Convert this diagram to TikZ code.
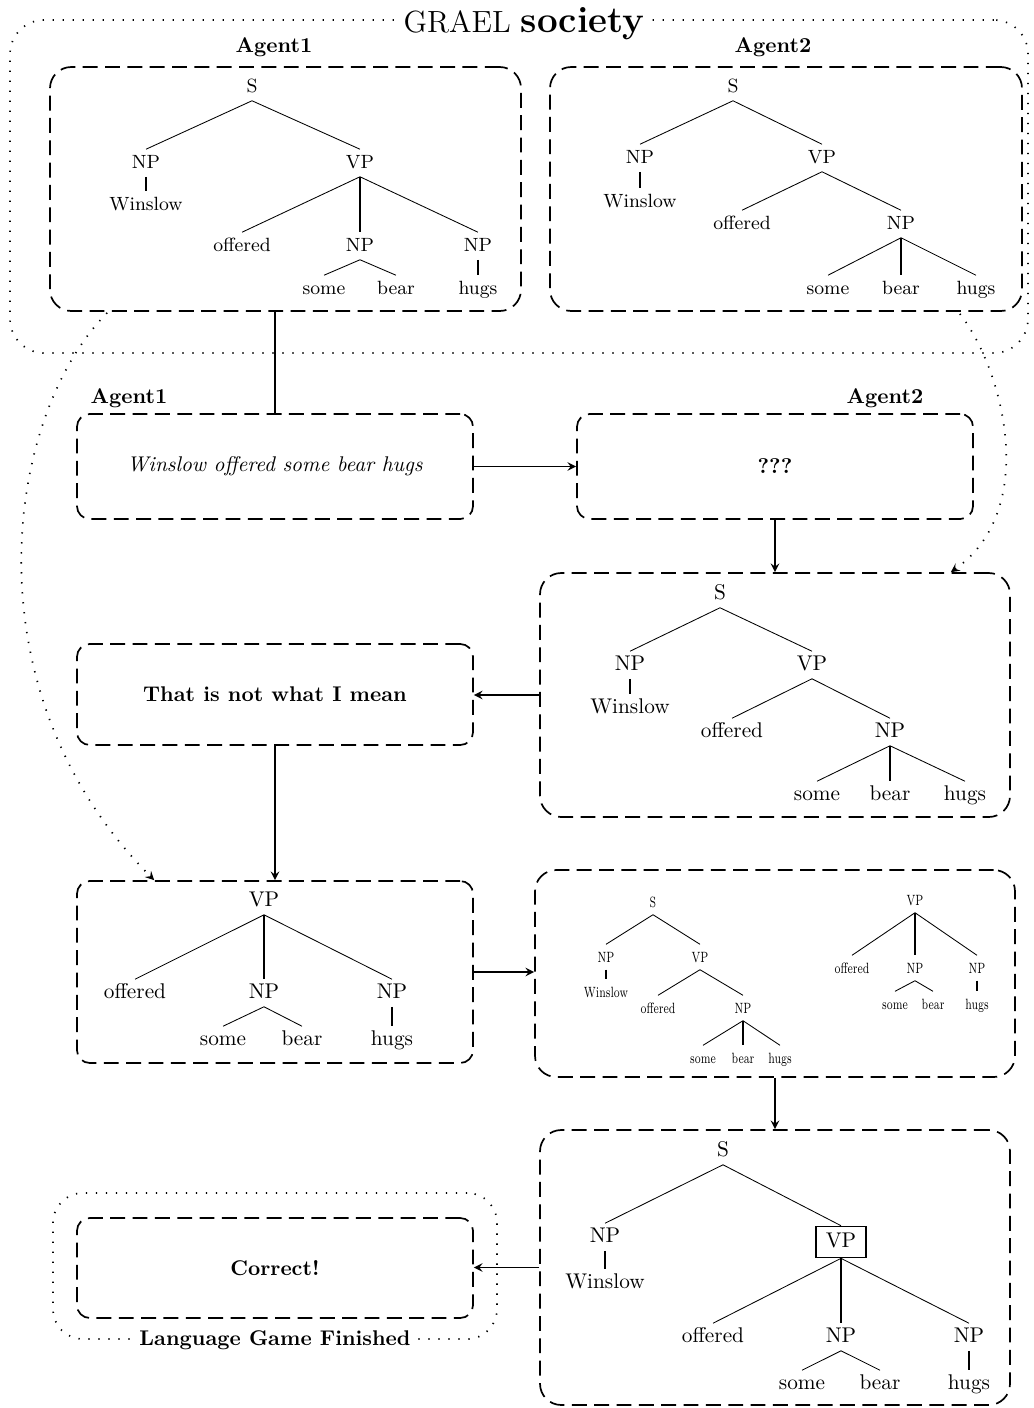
\documentclass[tikz,border=0pt]{standalone}
\usetikzlibrary{fit,calc}

\tikzset{
  treebox/.style={draw, thick, dash pattern=on 7pt off 3.5pt, rounded corners=10pt, inner sep=0pt},
  textbox/.style={treebox, rounded corners=6pt},
  grp/.style={draw, dash pattern=on 0.6pt off 4.1pt, line width=0.8pt, rounded corners=16pt, inner sep=0pt},
  link/.style={dash pattern=on 0.6pt off 4.1pt, line width=0.8pt, -stealth},
  tn/.style={inner sep=2.5pt, text height=1.5ex, text depth=.25ex},
  mini/.style={tn, inner sep=2pt, font=\scriptsize, xscale=0.7},
  vedge/.style={line width=0.8pt},
  conn/.style={thick},
  arr/.style={thick, -stealth},
}

\begin{document}
\begin{tikzpicture}[x=0.47pt,y=-0.47pt] % one unit = one pixel
\useasboundingbox (0,0) rectangle (1033,1408);

% the society
\node[grp, fit={(10,20) (1028,353)}] (soc) {};
\node[fill=white, inner sep=2pt, anchor=base] (socTitle) at (524,32) {\Large GRAEL \LARGE\bfseries society};
\node[font=\bfseries] (ag1) at (274,47) {Agent1};
\node[font=\bfseries] (ag2) at (773,47) {Agent2};
\node[treebox, fit={(50,67) (521,311)}] (g1box) {};
\node[treebox, fit={(550,67) (1022,311)}] (g2box) {};

% grammar of agent 1
\begin{scope}[every node/.style={tn, font=\small}]
\node (g1S) at (252,87) {S};
\node (g1NP) at (146,163) {NP};
\node (g1VP) at (360,163) {VP};
\node (g1W) at (146,205) {Winslow};
\node (g1off) at (242,246) {offered};
\node (g1NPb) at (360,246) {NP};
\node (g1NPc) at (478,246) {NP};
\node (g1some) at (324,289) {some};
\node (g1bear) at (396,289) {bear};
\node (g1hugs) at (478,289) {hugs};
\draw (g1S.south) -- (g1NP.north) (g1S.south) -- (g1VP.north)
      (g1VP.south) -- (g1off.north) (g1VP.south) -- (g1NPc.north)
      (g1NPb.south) -- (g1some.north) (g1NPb.south) -- (g1bear.north);
\draw[vedge] (g1NP.south) -- (g1W.north) (g1VP.south) -- (g1NPb.north) (g1NPc.south) -- (g1hugs.north);
\end{scope}

% grammar of agent 2
\begin{scope}[every node/.style={tn, font=\small}]
\node (g2S) at (733,87) {S};
\node (g2NP) at (640,158) {NP};
\node (g2VP) at (822,158) {VP};
\node (g2W) at (640,202) {Winslow};
\node (g2off) at (742,224) {offered};
\node (g2NPb) at (901,224) {NP};
\node (g2some) at (828,289) {some};
\node (g2bear) at (901,289) {bear};
\node (g2hugs) at (976,289) {hugs};
\draw (g2S.south) -- (g2NP.north) (g2S.south) -- (g2VP.north)
      (g2VP.south) -- (g2off.north) (g2VP.south) -- (g2NPb.north)
      (g2NPb.south) -- (g2some.north) (g2NPb.south) -- (g2hugs.north);
\draw[vedge] (g2NP.south) -- (g2W.north) (g2NPb.south) -- (g2bear.north);
\end{scope}

% the utterance
\node[font=\bfseries] (ag1b) at (129,398) {Agent1};
\node[font=\bfseries] (ag2b) at (885,398) {Agent2};
\node[textbox, fit={(77,414) (473,519)}] (sent) {};
\node (sentText) at (sent.center) {\textit{Winslow offered some bear hugs}};
\node[textbox, fit={(577,414) (973,519)}] (ques) {};
\node (quesText) at (ques.center) {\textbf{???}};
\node[treebox, fit={(540,573) (1010,817)}] (p2box) {};
\node[textbox, fit={(77,644) (473,745)}] (that) {};
\node (thatText) at (that.center) {\textbf{That is not what I mean}};

% parse by agent 2
\node[tn] (p2S) at (720,594) {S};
\node[tn] (p2NP) at (630,665) {NP};
\node[tn] (p2VP) at (812,665) {VP};
\node[tn] (p2W) at (630,708) {Winslow};
\node[tn] (p2off) at (732,732) {offered};
\node[tn] (p2NPb) at (890,732) {NP};
\node[tn] (p2some) at (817,795) {some};
\node[tn] (p2bear) at (890,795) {bear};
\node[tn] (p2hugs) at (965,795) {hugs};
\draw (p2S.south) -- (p2NP.north) (p2S.south) -- (p2VP.north)
      (p2VP.south) -- (p2off.north) (p2VP.south) -- (p2NPb.north)
      (p2NPb.south) -- (p2some.north) (p2NPb.south) -- (p2hugs.north);
\draw[vedge] (p2NP.south) -- (p2W.north) (p2NPb.south) -- (p2bear.north);

% fragment from agent 1
\node[textbox, fit={(77,881) (473,1063)}] (frag) {};
\node[tn] (frVP) at (264,901) {VP};
\node[tn] (frOff) at (135,993) {offered};
\node[tn] (frNPb) at (264,993) {NP};
\node[tn] (frNPc) at (392,993) {NP};
\node[tn] (frSome) at (223,1040) {some};
\node[tn] (frBear) at (302,1040) {bear};
\node[tn] (frHugs) at (392,1040) {hugs};
\draw (frVP.south) -- (frOff.north) (frVP.south) -- (frNPc.north)
      (frNPb.south) -- (frSome.north) (frNPb.south) -- (frBear.north);
\draw[vedge] (frVP.south) -- (frNPb.north) (frNPc.south) -- (frHugs.north);

% candidates
\node[treebox, fit={(535,870) (1015,1077)}] (cand) {};
\begin{scope}[every node/.style={mini}]
\node (csS) at (653,902) {S};
\node (csNP) at (606,957) {NP};
\node (csVP) at (700,957) {VP};
\node (csW) at (606,992) {Winslow};
\node (csOff) at (658,1008) {offered};
\node (csNPb) at (743,1008) {NP};
\node (csSome) at (703,1058) {some};
\node (csBear) at (743,1058) {bear};
\node (csHugs) at (780,1058) {hugs};
\draw (csS.south) -- (csNP.north) (csS.south) -- (csVP.north)
      (csVP.south) -- (csOff.north) (csVP.south) -- (csNPb.north)
      (csNPb.south) -- (csSome.north) (csNPb.south) -- (csHugs.north);
\draw[vedge] (csNP.south) -- (csW.north) (csNPb.south) -- (csBear.north);

\node (cvVP) at (915,900) {VP};
\node (cvOff) at (852,968) {offered};
\node (cvNPb) at (915,968) {NP};
\node (cvNPc) at (977,968) {NP};
\node (cvSome) at (895,1004) {some};
\node (cvBear) at (933,1004) {bear};
\node (cvHugs) at (977,1004) {hugs};
\draw (cvVP.south) -- (cvOff.north) (cvVP.south) -- (cvNPc.north)
      (cvNPb.south) -- (cvSome.north) (cvNPb.south) -- (cvBear.north);
\draw[vedge] (cvVP.south) -- (cvNPb.north) (cvNPc.south) -- (cvHugs.north);
\end{scope}

% new parse
\node[treebox, fit={(540,1130) (1010,1405)}] (fin) {};
\node[tn] (fiS) at (723,1151) {S};
\node[tn] (fiNP) at (605,1237) {NP};
\node[tn, draw, thick, inner xsep=4.5pt, inner ysep=3.5pt] (fiVP) at (841,1242) {VP};
\node[tn] (fiW) at (605,1283) {Winslow};
\node[tn] (fiOff) at (713,1337) {offered};
\node[tn] (fiNPb) at (841,1337) {NP};
\node[tn] (fiNPc) at (969,1337) {NP};
\node[tn] (fiSome) at (802,1384) {some};
\node[tn] (fiBear) at (880,1384) {bear};
\node[tn] (fiHugs) at (969,1384) {hugs};
\draw (fiS.south) -- (fiNP.north) (fiS.south) -- (fiVP.north)
      (fiVP.south) -- (fiOff.north) (fiVP.south) -- (fiNPc.north)
      (fiNPb.south) -- (fiSome.north) (fiNPb.south) -- (fiBear.north);
\draw[vedge] (fiNP.south) -- (fiW.north) (fiVP.south) -- (fiNPb.north) (fiNPc.south) -- (fiHugs.north);

% end of the game
\node[grp, rounded corners=14pt, fit={(53,1193) (497,1339)}] (lgame) {};
\node[textbox, fit={(77,1218) (473,1318)}] (correct) {};
\node (correctText) at (correct.center) {\textbf{Correct!}};
\node[fill=white, inner sep=2pt, font=\bfseries] (lgameTitle) at (lgame.south) {Language Game Finished};

% connectors
\draw[conn] (sent.north |- g1box.south) -- (sent.north);
\draw[arr] (sent.east) -- (ques.west);
\draw[arr] (ques.south) -- (p2box.north);
\draw[arr] (p2box.west) -- (p2box.west -| that.east);
\draw[arr] (that.south) -- (frag.north);
\draw[arr] (frag.east) -- (frag.east -| cand.west);
\draw[arr] (cand.south) -- (fin.north);
\draw[arr] (fin.west) -- (fin.west -| correct.east);
\draw[link] ($(g1box.south west)+(58,1)$) .. controls (4,417) and (-33,692) .. ($(frag.north west)+(78,0)$);
\draw[link] ($(g2box.south east)+(-63,2)$) .. controls (1003,369) and (1040,509) .. ($(p2box.north east)+(-60,0)$);
\end{tikzpicture}
\end{document}
